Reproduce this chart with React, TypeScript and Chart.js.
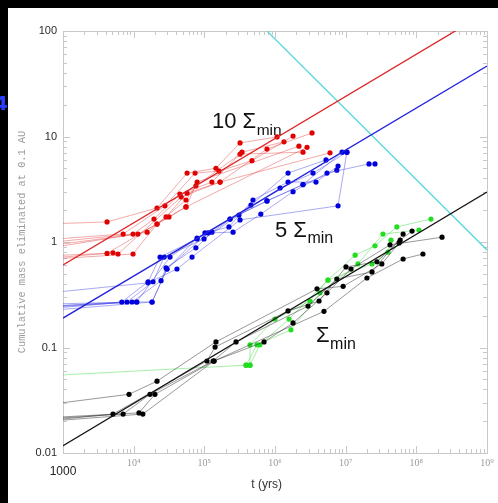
import React, { useEffect, useRef } from "react";
import { Chart, registerables } from "chart.js";
Chart.register(...registerables);

const xTickValues = [1e3, 1e4, 1e5, 1e6, 1e7, 1e8, 1e9];
const xTickLabels = ["1000", "10⁴", "10⁵", "10⁶", "10⁷", "10⁸", "10⁹"];
const yTickValues = [0.01, 0.1, 1, 10, 100];
const yTickLabels = ["0.01", "0.1", "1", "10", "100"];

// power-law fits (M ∝ t^0.4) and the cyan limit (M ∝ t^-2/3)
const fit10 = [[1e3, 0.605], [1e9, 151]];
const fit5 = [[1e3, 0.19], [1e9, 46.6]];
const fit1 = [[1e3, 0.0117], [1e9, 2.98]];
const cyanLimit = [[1e5, 390], [1e9, 0.84]];

// 10 Σmin runs
const red1 = [[1e3, 1.5], [4.2e3, 1.55], [2.14e4, 2.1], [5.7e4, 4.5], [1.46e5, 5.0], [3.2e5, 8.7], [1.07e6, 9.9]];
const red2 = [[1e3, 1.08], [7.1e3, 1.19], [2.77e4, 2.2], [7.4e4, 4.5], [1.61e5, 4.7], [4.72e5, 5.9], [1.8e6, 10.1]];
const red3 = [[1e3, 1.02], [9.8e3, 1.19], [1.94e4, 1.65], [4.5e4, 2.85], [1.28e5, 3.7], [3.41e5, 7.1], [1.34e6, 8.9]];
const red4 = [[1e3, 0.96], [1.15e4, 1.19], [2.14e4, 1.48], [5.5e4, 2.5], [7.6e4, 3.4], [3.2e5, 6.8], [2.49e6, 7.1]];
const red5 = [[1e3, 0.92], [1.55e4, 1.24], [2.87e4, 1.73], [5.7e4, 2.9], [1.67e5, 3.7], [7.7e5, 7.6], [3.34e6, 10.8]];
const red6 = [[1e3, 0.75], [4.2e3, 0.78], [3.16e4, 1.73], [5.5e4, 2.15], [7.9e4, 3.7], [2.18e6, 8.1]];
const red7 = [[1e3, 0.72], [5.1e3, 0.79], [6.0e3, 0.77], [4.7e4, 2.67], [1.67e5, 3.7], [6.0e6, 7.0]];
const red8 = [[1e3, 0.7], [9.8e3, 0.77], [2.14e4, 1.48], [5.5e4, 2.15], [2.84e6, 7.9]];

// 5 Σmin runs
const blue1 = [[1e3, 0.25], [6.8e3, 0.27], [1.6e4, 0.42], [2.36e4, 0.72], [7.9e4, 1.07], [2.31e5, 1.65], [7.7e5, 2.45], [2.49e6, 3.5], [8.9e6, 7.1]];
const blue2 = [[1e3, 0.24], [8.05e3, 0.27], [1.88e4, 0.42], [2.7e4, 0.72], [9.9e4, 1.07], [3.09e5, 1.8], [1.18e6, 3.25], [3.45e6, 4.5], [1.04e7, 7.1]];
const blue3 = [[1e3, 0.245], [9.5e3, 0.27], [2.44e4, 0.43], [2.87e4, 0.57], [7.6e4, 0.88], [1.28e5, 1.24], [4.57e5, 2.24], [1.53e6, 4.5], [5.27e6, 6.0]];
const blue4 = [[1e3, 0.25], [1.11e4, 0.27], [1.82e4, 0.27], [2.96e4, 0.555], [1.13e5, 1.22], [2.55e5, 1.24], [6.3e5, 1.84], [1.8e6, 3.0], [5.44e6, 4.5], [2.14e7, 5.5], [2.6e7, 5.5]];
const blue5 = [[1e3, 0.26], [1.1e4, 0.27], [3.27e4, 0.72], [1.02e5, 1.22], [2.23e5, 1.39], [4.88e5, 2.5], [1.53e6, 3.7], [3.8e6, 3.7], [7.8e6, 5.25]];
const blue6 = [[1e3, 0.34], [1.6e4, 0.41], [4.1e4, 0.555], [6.7e4, 0.72], [3.2e5, 1.62], [7.8e6, 2.2], [1.04e7, 7.1]];
const blue7 = [[1e3, 0.23], [1.82e4, 0.27], [2.96e4, 0.555], [7.9e4, 1.09], [2.31e5, 1.65], [7.7e5, 2.45], [2.49e6, 3.5], [7.5e6, 4.8]];

// Σmin runs (black)
const black1 = [[1e3, 0.021], [5.1e3, 0.0234], [1.09e5, 0.0745], [1.42e5, 0.101], [1.53e6, 0.222], [4.2e6, 0.276], [1.01e7, 0.58], [2.77e7, 0.65], [5.9e7, 1.04], [8.7e7, 1.27]];
const black2 = [[1e3, 0.0215], [7.1e3, 0.0234], [1.7e4, 0.036], [1.33e5, 0.0745], [2.81e5, 0.113], [2.93e6, 0.247], [7.5e6, 0.446], [2.36e7, 0.52], [6.5e7, 1.19]];
const black3 = [[1e3, 0.022], [1.19e4, 0.024], [2.0e4, 0.036], [1.37e5, 0.0745], [7.0e5, 0.113], [1.8e6, 0.171], [5.44e6, 0.33], [1.19e7, 0.555], [4.24e7, 0.94], [2.31e8, 1.11]];
const black4 = [[1e3, 0.03], [8.6e3, 0.036], [2.14e4, 0.048], [1.46e5, 0.113], [3.93e6, 0.36], [9.2e6, 0.38], [3.25e7, 0.62], [5.7e7, 0.98]];
const black5 = [[1e3, 0.0205], [1.35e4, 0.0234], [1.37e5, 0.0745], [4.93e6, 0.22], [2.0e7, 0.456], [6.5e7, 0.69], [1.24e8, 0.77]];

// Σmin runs (green)
const green1 = [[1e3, 0.055], [3.89e5, 0.068], [4.43e5, 0.068], [4.43e5, 0.106], [1.0e6, 0.186], [3.13e6, 0.276], [5.62e6, 0.436], [1.36e7, 0.75], [2.6e7, 0.92], [5.3e7, 1.39], [1.61e8, 1.65]];
const green2 = [[3.89e5, 0.068], [5.56e5, 0.106], [1.68e6, 0.147], [4.33e6, 0.33], [1.49e7, 0.62], [3.37e7, 1.19], [1.09e8, 1.3]];
const green3 = [[4.43e5, 0.068], [6.1e5, 0.106], [1.58e6, 0.186], [5.62e6, 0.436], [2.36e7, 0.62], [3.97e7, 0.8], [4.38e7, 1.04]];

const toXY = (arr: number[][]) => arr.map(([x, y]) => ({ x, y }));

const runSet = (arrs: number[][][], line: string, point: string) =>
  arrs.map((a) => ({
    data: toXY(a),
    borderColor: line,
    borderWidth: 0.8,
    backgroundColor: point,
    pointBackgroundColor: point,
    pointBorderWidth: 0,
    pointRadius: (c: any) => (c.raw && c.raw.x === 1000 ? 0 : 2.6),
    tension: 0,
    order: 2,
  }));

const fitSet = (a: number[][], color: string) => ({
  data: toXY(a),
  borderColor: color,
  borderWidth: 1.3,
  pointRadius: 0,
  tension: 0,
  order: 0,
});

const bgPlugin = {
  id: "bg",
  beforeDraw(chart: any) {
    const { ctx, width, height } = chart;
    ctx.save();
    ctx.fillStyle = "#000";
    ctx.fillRect(0, 0, width, height);
    ctx.fillStyle = "#fff";
    ctx.fillRect(8, 8, width - 8, height - 8);
    ctx.restore();
  },
};

const frameTicks = {
  id: "frameTicks",
  beforeDatasetsDraw(chart: any) {
    const { ctx, chartArea: a, scales } = chart;
    const xs = scales.x;
    const ys = scales.y;
    const minors = (min: number, max: number) => {
      const out: [number, boolean][] = [];
      for (let e = Math.round(Math.log10(min)); e < Math.round(Math.log10(max)); e++)
        for (let k = 1; k < 10; k++) out.push([k * Math.pow(10, e), k === 1]);
      out.push([max, true]);
      return out;
    };
    ctx.save();
    ctx.strokeStyle = "#c8c8c8";
    ctx.lineWidth = 1;
    ctx.strokeRect(Math.round(a.left) + 0.5, Math.round(a.top) + 0.5, Math.round(a.right - a.left), Math.round(a.bottom - a.top));
    ctx.beginPath();
    for (const [v, maj] of minors(xs.min, xs.max)) {
      const p = Math.round(xs.getPixelForValue(v)) + 0.5;
      const L = maj ? 7 : 4;
      ctx.moveTo(p, a.bottom);
      ctx.lineTo(p, a.bottom - L);
      ctx.moveTo(p, a.top);
      ctx.lineTo(p, a.top + L);
    }
    for (const [v, maj] of minors(ys.min, ys.max)) {
      const p = Math.round(ys.getPixelForValue(v)) + 0.5;
      const L = maj ? 7 : 4;
      ctx.moveTo(a.left, p);
      ctx.lineTo(a.left + L, p);
      ctx.moveTo(a.right, p);
      ctx.lineTo(a.right - L, p);
    }
    ctx.stroke();
    ctx.restore();
  },
};

const labelsPlugin = {
  id: "labels",
  afterDraw(chart: any) {
    const { ctx } = chart;
    ctx.save();
    // cut-off slide number on the left border
    ctx.fillStyle = "#2b3dff";
    ctx.font = 'bold 20px "DejaVu Sans"';
    ctx.textAlign = "right";
    ctx.textBaseline = "alphabetic";
    ctx.fillText("4", 8, 110);

    ctx.textAlign = "left";
    ctx.fillStyle = "#111";
    const sigma = (pre: string, x: number, y: number, big: number, small: number, dy: number) => {
      ctx.font = `${big}px "Liberation Sans"`;
      const t = pre + "Σ";
      ctx.fillText(t, x, y);
      const w = ctx.measureText(t).width;
      ctx.font = `${small}px "Liberation Sans"`;
      ctx.fillText("min", x + w + 0.5, y + dy);
    };
    sigma("10 ", 212, 128, 22, 15.5, 7);
    sigma("5 ", 275, 237, 22, 16, 6);
    sigma("", 316, 342, 22, 16, 7);
    ctx.restore();
  },
};

export default function App() {
  const ref = useRef<HTMLCanvasElement>(null);
  useEffect(() => {
    if (!ref.current) return;
    const datasets: any[] = [
      fitSet(fit10, "#dd2222"),
      fitSet(fit5, "#2222dd"),
      fitSet(fit1, "#111111"),
      fitSet(cyanLimit, "#55d8dc"),
      ...runSet([red1, red2, red3, red4, red5, red6, red7, red8], "rgba(228,60,60,0.55)", "#e00000"),
      ...runSet([blue1, blue2, blue3, blue4, blue5, blue6, blue7], "rgba(60,60,228,0.55)", "#0000dd"),
      ...runSet([black1, black2, black3, black4, black5], "rgba(40,40,40,0.6)", "#000000"),
      ...runSet([green1, green2, green3], "rgba(70,220,70,0.6)", "#22dd22"),
    ];
    const chart = new Chart(ref.current, {
      type: "line",
      data: { datasets },
      options: {
        responsive: false,
        devicePixelRatio: 1,
        animation: false,
        events: [],
        layout: { padding: { left: 0, right: 11, top: 31, bottom: 0 } },
        plugins: { legend: { display: false }, tooltip: { enabled: false } },
        scales: {
          x: {
            type: "logarithmic",
            min: 1e3,
            max: 1e9,
            grid: { display: false, drawTicks: false, tickLength: 0 },
            border: { display: false },
            afterBuildTicks: (s: any) => {
              s.ticks = xTickValues.map((v) => ({ value: v }));
            },
            afterFit: (s: any) => {
              s.height = 50;
            },
            ticks: {
              autoSkip: false,
              maxRotation: 0,
              minRotation: 0,
              padding: 4,
              callback: (v: any) => xTickLabels[xTickValues.indexOf(Number(v))] ?? "",
              color: (c: any) => (c.tick && c.tick.value === 1000 ? "#222" : "#9a9a9a"),
              font: (c: any) =>
                c.tick && c.tick.value === 1000
                  ? { family: "Liberation Sans", size: 12, lineHeight: 2.5 }
                  : { family: "Liberation Serif", size: 10, lineHeight: 1.2 },
            },
            title: {
              display: true,
              text: "t (yrs)     ",
              color: "#333",
              font: { family: "Liberation Sans", size: 12, lineHeight: 1.2 },
              padding: { top: 0, bottom: 11 },
            },
          },
          y: {
            type: "logarithmic",
            min: 0.01,
            max: 100,
            grid: { display: false, drawTicks: false, tickLength: 0 },
            border: { display: false },
            afterBuildTicks: (s: any) => {
              s.ticks = yTickValues.map((v) => ({ value: v }));
            },
            afterFit: (s: any) => {
              s.width = 63;
            },
            ticks: {
              autoSkip: false,
              padding: 6,
              color: "#2a2a2a",
              font: { family: "Liberation Sans", size: 11 },
              callback: (v: any) => yTickLabels[yTickValues.indexOf(Number(v))] ?? "",
            },
            title: {
              display: true,
              text: "Cumulative mass eliminated at 0.1 AU",
              color: "#9c9c9c",
              font: { family: "Liberation Mono", size: 10.3, lineHeight: 1.2 },
              padding: { top: 16, bottom: 0 },
            },
          },
        },
      },
      plugins: [bgPlugin, frameTicks, labelsPlugin],
    });
    return () => chart.destroy();
  }, []);
  return (
    <div style={{ position: "fixed", left: 0, top: 0, width: 498, height: 503, background: "#000" }}>
      <canvas ref={ref} width={498} height={503} style={{ display: "block" }} />
    </div>
  );
}
